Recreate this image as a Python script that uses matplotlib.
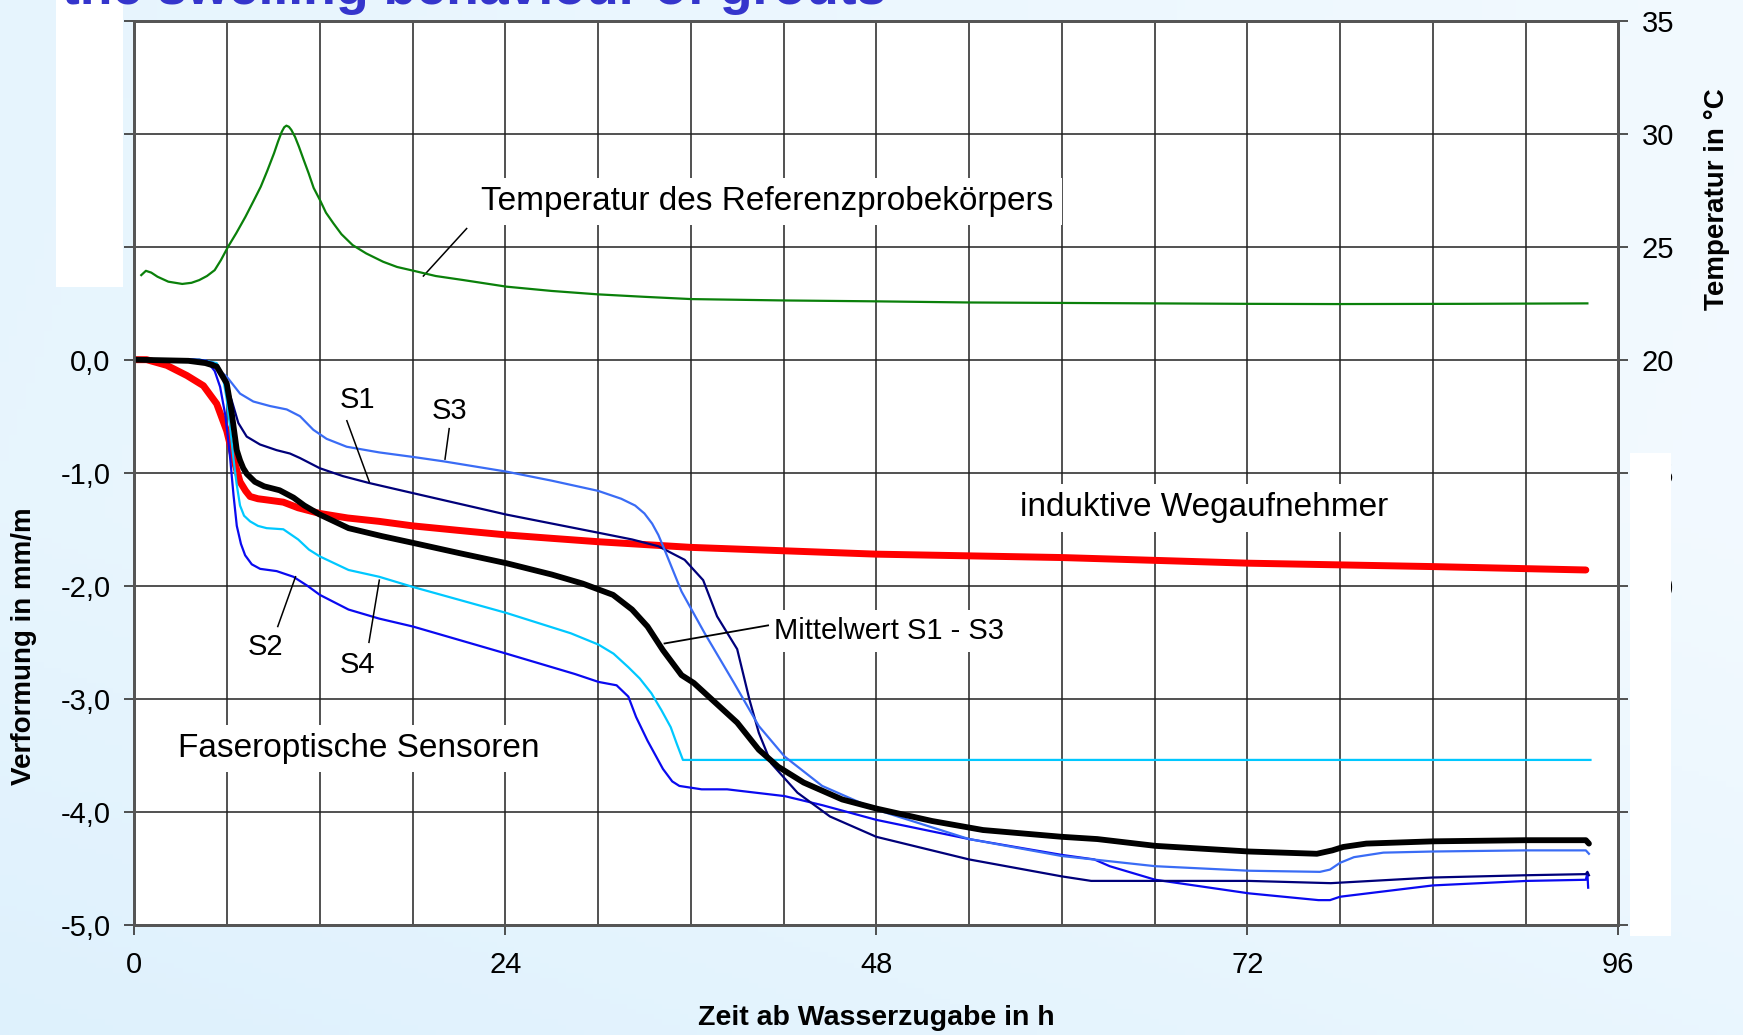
import numpy as np
import matplotlib.pyplot as plt
from matplotlib.ticker import FuncFormatter, MultipleLocator
from matplotlib.patches import Rectangle

plt.rcParams['font.family'] = ['Liberation Sans', 'DejaVu Sans']

# --- data (time in h after adding water) ---
temp_t = [0.45, 0.75, 1.1, 1.5, 2.2, 3.1, 3.7, 4.2, 4.7, 5.2, 5.6, 6.07, 6.6, 7.19,
          7.7, 8.18, 8.6, 9.04, 9.3, 9.54, 9.7, 9.84, 10.0, 10.16, 10.4, 10.65, 10.95,
          11.28, 11.6, 12.01, 12.4, 12.88, 13.4, 14.12, 15.0, 16.1, 17.0, 18.08, 19.5,
          21.3, 24.07, 27.0, 29.97, 33.0, 36.03, 42.0, 48.0, 54.0, 63.0, 72.0, 77.7,
          86.0, 94.0]
temp_v = [23.74, 23.93, 23.85, 23.67, 23.45, 23.35, 23.4, 23.52, 23.7, 23.96, 24.4,
          25.0, 25.6, 26.32, 27.0, 27.65, 28.35, 29.13, 29.65, 30.08, 30.28, 30.35,
          30.3, 30.16, 29.85, 29.42, 28.85, 28.24, 27.6, 27.06, 26.5, 26.03, 25.55,
          25.07, 24.7, 24.33, 24.1, 23.93, 23.7, 23.52, 23.23, 23.04, 22.89, 22.78,
          22.68, 22.62, 22.58, 22.53, 22.5, 22.47, 22.46, 22.47, 22.49]

red_t = [0.0, 0.8, 2.1, 3.4, 4.47, 5.33, 5.98, 6.41, 6.84, 7.2, 7.49, 8.0, 8.56, 9.64,
         10.6, 12.0, 13.8, 15.84, 18.02, 21.0, 24.07, 27.0, 30.0, 36.0, 42.0, 48.0,
         60.0, 72.1, 84.0, 93.9]
red_v = [0.0, 0.0, -0.05, -0.14, -0.23, -0.39, -0.63, -0.87, -1.08, -1.16, -1.21,
         -1.23, -1.24, -1.26, -1.31, -1.36, -1.40, -1.43, -1.47, -1.51, -1.55, -1.58,
         -1.61, -1.66, -1.69, -1.72, -1.75, -1.80, -1.83, -1.86]

mean_t = [0.0, 3.5, 4.6, 5.33, 5.98, 6.3, 6.63, 6.84, 7.05, 7.28, 7.8, 8.4, 9.4, 10.3,
          11.0, 12.0, 13.86, 16.0, 18.02, 21.0, 24.07, 27.0, 29.0, 30.97, 32.2, 33.2,
          34.2, 35.4, 36.2, 37.4, 39.0, 40.4, 41.65, 43.3, 45.8, 48.0, 51.6, 54.9,
          60.0, 62.3, 66.05, 72.1, 76.5, 77.5, 78.2, 79.7, 84.0, 90.0, 93.9, 94.1]
mean_v = [0.0, -0.01, -0.03, -0.06, -0.21, -0.47, -0.80, -0.89, -0.96, -1.01, -1.08,
          -1.12, -1.155, -1.22, -1.29, -1.37, -1.49, -1.56, -1.62, -1.71, -1.80,
          -1.90, -1.98, -2.08, -2.21, -2.36, -2.57, -2.79, -2.86, -3.01, -3.21, -3.45,
          -3.60, -3.74, -3.89, -3.97, -4.08, -4.16, -4.22, -4.24, -4.30, -4.35, -4.37,
          -4.34, -4.31, -4.28, -4.26, -4.25, -4.25, -4.28]

s1_t = [0.0, 4.2, 5.11, 5.76, 6.3, 6.73, 7.27, 8.13, 9.2, 10.07, 10.72, 12.0, 13.5,
        15.17, 18.02, 24.07, 30.0, 32.2, 33.9, 35.6, 36.8, 37.7, 39.0, 39.8, 40.4,
        41.2, 42.9, 45.0, 48.0, 54.0, 60.0, 61.9, 72.1, 77.4, 84.0, 90.0, 93.9, 94.0,
        94.1]
s1_v = [0.0, 0.0, -0.03, -0.15, -0.36, -0.56, -0.68, -0.75, -0.80, -0.83, -0.87,
        -0.96, -1.03, -1.09, -1.18, -1.37, -1.53, -1.59, -1.65, -1.77, -1.95, -2.27,
        -2.56, -3.01, -3.30, -3.57, -3.83, -4.04, -4.22, -4.42, -4.57, -4.61, -4.61,
        -4.63, -4.58, -4.56, -4.55, -4.53, -4.56]

s2_t = [0.0, 3.8, 4.68, 5.2, 5.55, 5.9, 6.2, 6.42, 6.63, 6.9, 7.17, 7.6, 8.14, 9.21,
        10.29, 11.2, 12.0, 13.86, 15.84, 18.02, 24.07, 28.5, 30.03, 31.2, 31.96,
        32.46, 33.2, 34.2, 34.8, 35.26, 36.7, 38.35, 42.07, 44.5, 48.0, 54.0, 60.0,
        62.1, 63.1, 66.05, 72.1, 76.6, 77.35, 78.0, 84.0, 90.1, 93.9, 94.0, 94.05]
s2_v = [0.0, 0.0, -0.01, -0.10, -0.24, -0.50, -0.87, -1.20, -1.47, -1.63, -1.73,
        -1.81, -1.85, -1.87, -1.92, -2.00, -2.08, -2.21, -2.29, -2.36, -2.60, -2.78,
        -2.85, -2.88, -2.98, -3.16, -3.37, -3.62, -3.73, -3.77, -3.80, -3.80, -3.86,
        -3.94, -4.07, -4.24, -4.38, -4.42, -4.48, -4.60, -4.72, -4.78, -4.78, -4.75,
        -4.65, -4.61, -4.60, -4.54, -4.67]

s3_t = [0.0, 3.6, 4.25, 5.11, 5.98, 6.84, 7.7, 8.78, 9.86, 10.72, 11.58, 12.44, 13.74,
        15.84, 18.02, 20.05, 24.07, 27.0, 30.0, 31.5, 32.4, 33.0, 33.5, 33.9, 34.3,
        35.4, 36.9, 38.8, 40.4, 42.07, 44.5, 48.0, 54.0, 60.0, 66.05, 72.1, 76.7,
        77.35, 78.0, 78.9, 80.8, 84.0, 90.0, 93.9, 94.1]
s3_v = [0.0, 0.0, -0.01, -0.05, -0.15, -0.30, -0.37, -0.41, -0.44, -0.50, -0.62,
        -0.70, -0.77, -0.82, -0.86, -0.90, -0.99, -1.07, -1.16, -1.23, -1.29, -1.36,
        -1.45, -1.55, -1.68, -2.05, -2.42, -2.86, -3.24, -3.51, -3.77, -3.98, -4.24,
        -4.39, -4.48, -4.52, -4.53, -4.51, -4.45, -4.40, -4.36, -4.35, -4.34, -4.34,
        -4.37]

s4_t = [0.0, 3.6, 4.25, 5.33, 5.7, 5.98, 6.2, 6.41, 6.62, 6.84, 7.1, 7.49, 8.0, 8.56,
        9.64, 10.6, 11.3, 12.0, 13.86, 15.84, 18.02, 24.07, 28.24, 30.03, 31.0, 31.96,
        32.7, 33.45, 34.1, 34.7, 35.1, 35.49, 94.2]
s4_v = [0.0, 0.0, 0.0, -0.03, -0.13, -0.35, -0.60, -0.87, -1.10, -1.29, -1.38, -1.43,
        -1.47, -1.49, -1.50, -1.59, -1.68, -1.74, -1.86, -1.92, -2.01, -2.24, -2.42,
        -2.52, -2.60, -2.72, -2.82, -2.95, -3.10, -3.25, -3.40, -3.54, -3.54]

left_ticks = [-5, -4, -3, -2, -1, 0, 1, 2, 3]
right_ticks = [-5, 0, 5, 10, 15, 20, 25, 30, 35]
right_labels = ['', '0', '5', '10', '15', '20', '25', '30', '35']
x_ticks = [0, 24, 48, 72, 96]

# --- figure ---
W, H = 1743, 1035
fig = plt.figure(figsize=(W / 100, H / 100), dpi=100)

# light blue gradient background
bg = fig.add_axes([0, 0, 1, 1], zorder=-10)
gx, gy = np.meshgrid(np.linspace(0, 1, 200), np.linspace(0, 1, 200))
w = np.clip(0.35 + 0.5 * gx + 0.35 * gy - 0.45 * np.abs(gy - 0.5), 0, 1)
c_dark = np.array([0.86, 0.94, 0.99])
c_light = np.array([0.95, 0.98, 1.0])
img = c_dark[None, None, :] * (1 - w[..., None]) + c_light[None, None, :] * w[..., None]
bg.imshow(img, origin='lower', extent=[0, 1, 0, 1], aspect='auto')
bg.axis('off')

ax = fig.add_axes([134.3 / W, 1 - 925 / H, (1618.3 - 134.3) / W, (925 - 20.5) / H])
ax.set_facecolor('white')
ax2 = ax.twinx()

ax.set_xlim(0, 96)
ax.set_ylim(-5, 3)
ax2.set_ylim(-5, 35)

ax.set_xticks(x_ticks)
ax.xaxis.set_minor_locator(MultipleLocator(6))
ax.set_yticks(left_ticks)
ax2.set_yticks(right_ticks)
ax2.set_yticklabels(right_labels)
ax.yaxis.set_major_formatter(FuncFormatter(lambda v, p: f"{v:.1f}".replace('.', ',')))

ax.grid(True, which='major', axis='y', color='#222222', lw=1.1)
ax.grid(True, which='both', axis='x', color='#222222', lw=1.1)
ax.set_axisbelow(True)

for a in (ax, ax2):
    for s in a.spines.values():
        s.set_color('#555555')
        s.set_linewidth(2)
ax.tick_params(axis='both', which='major', labelsize=21, length=7, width=1.2,
               color='#333333', direction='out')
ax.tick_params(axis='y', pad=10)
ax.tick_params(axis='x', pad=12)
ax.tick_params(axis='x', which='minor', length=0)
ax2.tick_params(axis='y', labelsize=21, length=7, width=1.2, color='#333333', pad=10)

# --- curves ---
ax.plot(red_t, red_v, color='#ff0000', lw=5.0, zorder=3, solid_capstyle='round',
        solid_joinstyle='round')
ax.plot(s4_t, s4_v, color='#00c8ff', lw=1.6, zorder=4)
ax.plot(s2_t, s2_v, color='#0a0af0', lw=1.6, zorder=4)
ax.plot(s1_t, s1_v, color='#00007a', lw=1.6, zorder=4)
ax.plot(s3_t, s3_v, color='#3a6cf5', lw=1.6, zorder=4)
ax.plot(mean_t, mean_v, color='black', lw=4.2, zorder=5, solid_capstyle='round',
        solid_joinstyle='round')
ax2.plot(temp_t, temp_v, color='#0a800a', lw=1.6)

# --- annotations ---
box = dict(boxstyle='square,pad=0.25', fc='white', ec='none')
ax.text(40.95, 1.40, 'Temperatur des Referenzprobekörpers', fontsize=24,
        ha='center', va='center', bbox=box, zorder=6)
ax.plot([21.5, 18.7], [1.16, 0.74], color='black', lw=1.1, zorder=6)

ax.text(69.2, -1.31, 'induktive Wegaufnehmer', fontsize=24,
        ha='center', va='center', bbox=box, zorder=6)

ax.text(41.4, -2.40, 'Mittelwert S1 - S3', fontsize=21,
        ha='left', va='center', bbox=box, zorder=6)
ax.plot([34.3, 41.0], [-2.51, -2.35], color='black', lw=1.3, zorder=6)

ax.text(14.5, -3.44, 'Faseroptische Sensoren', fontsize=24,
        ha='center', va='center', bbox=box, zorder=6)

ax.text(14.46, -0.36, 'S1', fontsize=21, ha='center', va='center', zorder=6)
ax.plot([13.75, 15.2], [-0.54, -1.08], color='black', lw=1.1, zorder=6)
ax.text(20.37, -0.45, 'S3', fontsize=21, ha='center', va='center', zorder=6)
ax.plot([20.37, 20.1], [-0.61, -0.88], color='black', lw=1.1, zorder=6)
ax.text(8.49, -2.54, 'S2', fontsize=21, ha='center', va='center', zorder=6)
ax.plot([9.28, 10.43], [-2.36, -1.92], color='black', lw=1.1, zorder=6)
ax.text(14.46, -2.70, 'S4', fontsize=21, ha='center', va='center', zorder=6)
ax.plot([15.18, 15.85], [-2.50, -1.95], color='black', lw=1.1, zorder=6)

# axis titles
fig.text(24.5 / W, 1 - 646 / H, 'Verformung in mm/m', rotation=90, fontsize=20,
         fontweight='bold', ha='center', va='center')
fig.text(1717 / W, 1 - 199 / H, 'Temperatur in °C', rotation=90, fontsize=20,
         fontweight='bold', ha='center', va='center')
fig.text(876 / W, 1 - 1018 / H, 'Zeit ab Wasserzugabe in h', fontsize=20.5,
         fontweight='bold', ha='center', va='center')

# white cover patches and cut-off slide title
fig.add_artist(Rectangle((56 / W, 1 - 287 / H), 67 / W, 287 / H,
                         transform=fig.transFigure, fc='white', ec='none', zorder=5))
fig.add_artist(Rectangle((1630 / W, 1 - 936 / H), 41 / W, 483 / H,
                         transform=fig.transFigure, fc='white', ec='none', zorder=5))
fig.text(62 / W, 1 - 4 / H, 'the swelling behaviour of grouts', fontsize=38.5,
         fontweight='bold', color='#3535cc', ha='left', va='baseline', zorder=6)

fig.savefig('out.png', dpi=100)
